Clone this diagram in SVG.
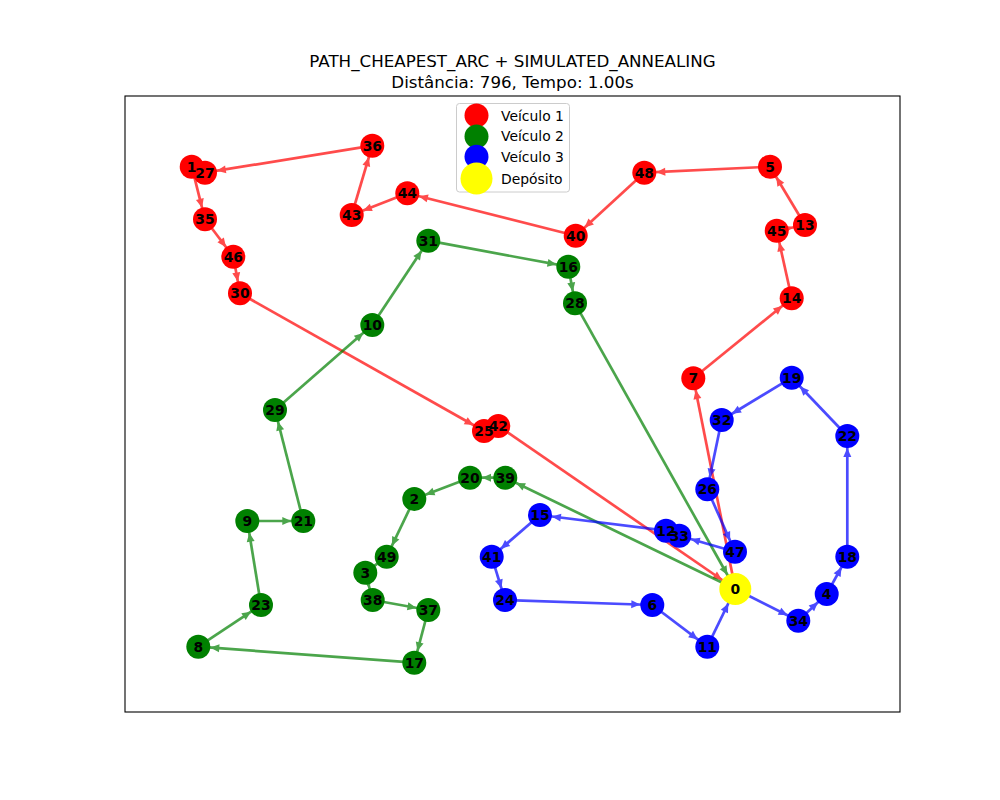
<svg xmlns="http://www.w3.org/2000/svg" width="1000" height="800" viewBox="0 0 1000 800">
<style>
.t{font-family:"DejaVu Sans",sans-serif;font-size:16.7px;fill:#000;text-anchor:middle}
.lg{font-family:"DejaVu Sans",sans-serif;font-size:13.9px;fill:#000}
.lb{font-family:"DejaVu Sans",sans-serif;font-size:13.9px;font-weight:bold;fill:#000;text-anchor:middle;dominant-baseline:central}
.r{fill:#ff0000}.g{fill:#008000}.b{fill:#0000ff}.y{fill:#ffff00}
.er{stroke:#ff0000;stroke-width:2.7;opacity:0.7;marker-end:url(#ar)}
.eg{stroke:#008000;stroke-width:2.7;opacity:0.7;marker-end:url(#ag)}
.eb{stroke:#0000ff;stroke-width:2.7;opacity:0.7;marker-end:url(#ab)}
.er0{stroke:#ff0000;stroke-width:2.7;opacity:0.7;marker-end:url(#ar0)}
.eg0{stroke:#008000;stroke-width:2.7;opacity:0.7;marker-end:url(#ag0)}
.eb0{stroke:#0000ff;stroke-width:2.7;opacity:0.7;marker-end:url(#ab0)}
</style>
<defs>
<marker id="ar" markerUnits="userSpaceOnUse" orient="auto" refX="0" refY="0" markerWidth="40" markerHeight="40" overflow="visible"><path d="M-12,0 L-21,-4 L-21,4 Z" fill="#ff0000"/></marker>
<marker id="ag" markerUnits="userSpaceOnUse" orient="auto" refX="0" refY="0" markerWidth="40" markerHeight="40" overflow="visible"><path d="M-12,0 L-21,-4 L-21,4 Z" fill="#008000"/></marker>
<marker id="ab" markerUnits="userSpaceOnUse" orient="auto" refX="0" refY="0" markerWidth="40" markerHeight="40" overflow="visible"><path d="M-12,0 L-21,-4 L-21,4 Z" fill="#0000ff"/></marker>
<marker id="ar0" markerUnits="userSpaceOnUse" orient="auto" refX="0" refY="0" markerWidth="40" markerHeight="40" overflow="visible"><path d="M-16,0 L-25,-4 L-25,4 Z" fill="#ff0000"/></marker>
<marker id="ag0" markerUnits="userSpaceOnUse" orient="auto" refX="0" refY="0" markerWidth="40" markerHeight="40" overflow="visible"><path d="M-16,0 L-25,-4 L-25,4 Z" fill="#008000"/></marker>
<marker id="ab0" markerUnits="userSpaceOnUse" orient="auto" refX="0" refY="0" markerWidth="40" markerHeight="40" overflow="visible"><path d="M-16,0 L-25,-4 L-25,4 Z" fill="#0000ff"/></marker>
</defs>
<rect x="0" y="0" width="1000" height="800" fill="#fff"/>
<text class="t" x="512.5" y="66.5">PATH_CHEAPEST_ARC + SIMULATED_ANNEALING</text>
<text class="t" x="512.5" y="87.5">Distância: 796, Tempo: 1.00s</text>
<rect x="125" y="96" width="775" height="616" fill="none" stroke="#000" stroke-width="1.1"/>
<g id="connectors">
<!-- red route -->
<line class="er" x1="735.3" y1="589" x2="693.3" y2="378.3"/>
<line class="er" x1="693.3" y1="378.3" x2="791.7" y2="298.3"/>
<line class="er" x1="791.7" y1="298.3" x2="776.7" y2="230.7"/>
<line class="er" x1="776.7" y1="230.7" x2="805" y2="225"/>
<line class="er" x1="805" y1="225" x2="770" y2="166.7"/>
<line class="er" x1="770" y1="166.7" x2="644.3" y2="172.7"/>
<line class="er" x1="644.3" y1="172.7" x2="575.7" y2="235.7"/>
<line class="er" x1="575.7" y1="235.7" x2="407.3" y2="193.3"/>
<line class="er" x1="407.3" y1="193.3" x2="351.7" y2="215"/>
<line class="er" x1="351.7" y1="215" x2="372.3" y2="145.7"/>
<line class="er" x1="372.3" y1="145.7" x2="205" y2="172.7"/>
<line class="er" x1="205" y1="172.7" x2="191.7" y2="166.7"/>
<line class="er" x1="191.7" y1="166.7" x2="205" y2="219.3"/>
<line class="er" x1="205" y1="219.3" x2="233.3" y2="256.7"/>
<line class="er" x1="233.3" y1="256.7" x2="240" y2="293.3"/>
<line class="er" x1="240" y1="293.3" x2="484" y2="431"/>
<line class="er" x1="484" y1="431" x2="498.3" y2="426"/>
<line class="er0" x1="498.3" y1="426" x2="735.3" y2="589"/>
<!-- green route -->
<line class="eg" x1="735.3" y1="589" x2="505.3" y2="477.7"/>
<line class="eg" x1="505.3" y1="477.7" x2="470" y2="477.7"/>
<line class="eg" x1="470" y1="477.7" x2="414.3" y2="499"/>
<line class="eg" x1="414.3" y1="499" x2="386.7" y2="556.7"/>
<line class="eg" x1="386.7" y1="556.7" x2="365.3" y2="572.7"/>
<line class="eg" x1="365.3" y1="572.7" x2="372.7" y2="600"/>
<line class="eg" x1="372.7" y1="600" x2="428.3" y2="610"/>
<line class="eg" x1="428.3" y1="610" x2="414.3" y2="662.7"/>
<line class="eg" x1="414.3" y1="662.7" x2="198.3" y2="646.7"/>
<line class="eg" x1="198.3" y1="646.7" x2="261" y2="605"/>
<line class="eg" x1="261" y1="605" x2="247.3" y2="521"/>
<line class="eg" x1="247.3" y1="521" x2="303.3" y2="521"/>
<line class="eg" x1="303.3" y1="521" x2="275" y2="410"/>
<line class="eg" x1="275" y1="410" x2="372.3" y2="325"/>
<line class="eg" x1="372.3" y1="325" x2="428.3" y2="240.7"/>
<line class="eg" x1="428.3" y1="240.7" x2="568.3" y2="266.7"/>
<line class="eg" x1="568.3" y1="266.7" x2="575" y2="303.3"/>
<line class="eg0" x1="575" y1="303.3" x2="735.3" y2="589"/>
<!-- blue route -->
<line class="eb" x1="735.3" y1="589" x2="798.3" y2="620.7"/>
<line class="eb" x1="798.3" y1="620.7" x2="826.7" y2="594"/>
<line class="eb" x1="826.7" y1="594" x2="847.3" y2="556.7"/>
<line class="eb" x1="847.3" y1="556.7" x2="847.3" y2="436"/>
<line class="eb" x1="847.3" y1="436" x2="791.7" y2="377.7"/>
<line class="eb" x1="791.7" y1="377.7" x2="721.7" y2="420"/>
<line class="eb" x1="721.7" y1="420" x2="707.3" y2="489.3"/>
<line class="eb" x1="707.3" y1="489.3" x2="735" y2="551.7"/>
<line class="eb" x1="735" y1="551.7" x2="679.3" y2="535.7"/>
<line class="eb" x1="679.3" y1="535.7" x2="666" y2="530.7"/>
<line class="eb" x1="666" y1="530.7" x2="540" y2="515"/>
<line class="eb" x1="540" y1="515" x2="491.7" y2="556.7"/>
<line class="eb" x1="491.7" y1="556.7" x2="505" y2="600"/>
<line class="eb" x1="505" y1="600" x2="652.3" y2="605"/>
<line class="eb" x1="652.3" y1="605" x2="707.3" y2="646.7"/>
<line class="eb0" x1="707.3" y1="646.7" x2="735.3" y2="589"/>
</g>
<g id="node-0"><circle class="y" cx="735.3" cy="589" r="16"/><text class="lb" x="735.3" y="589">0</text></g>
<g id="node-1"><circle class="r" cx="191.7" cy="166.7" r="12"/></g>
<g id="node-2"><circle class="g" cx="414.3" cy="499" r="12"/></g>
<g id="node-3"><circle class="g" cx="365.3" cy="572.7" r="12"/></g>
<g id="node-4"><circle class="b" cx="826.7" cy="594" r="12"/></g>
<g id="node-5"><circle class="r" cx="770" cy="166.7" r="12"/></g>
<g id="node-6"><circle class="b" cx="652.3" cy="605" r="12"/></g>
<g id="node-7"><circle class="r" cx="693.3" cy="378.3" r="12"/></g>
<g id="node-8"><circle class="g" cx="198.3" cy="646.7" r="12"/></g>
<g id="node-9"><circle class="g" cx="247.3" cy="521" r="12"/></g>
<g id="node-10"><circle class="g" cx="372.3" cy="325" r="12"/></g>
<g id="node-11"><circle class="b" cx="707.3" cy="646.7" r="12"/></g>
<g id="node-12"><circle class="b" cx="666" cy="530.7" r="12"/></g>
<g id="node-13"><circle class="r" cx="805" cy="225" r="12"/></g>
<g id="node-14"><circle class="r" cx="791.7" cy="298.3" r="12"/></g>
<g id="node-15"><circle class="b" cx="540" cy="515" r="12"/></g>
<g id="node-16"><circle class="g" cx="568.3" cy="266.7" r="12"/></g>
<g id="node-17"><circle class="g" cx="414.3" cy="662.7" r="12"/></g>
<g id="node-18"><circle class="b" cx="847.3" cy="556.7" r="12"/></g>
<g id="node-19"><circle class="b" cx="791.7" cy="377.7" r="12"/></g>
<g id="node-20"><circle class="g" cx="470" cy="477.7" r="12"/></g>
<g id="node-21"><circle class="g" cx="303.3" cy="521" r="12"/></g>
<g id="node-22"><circle class="b" cx="847.3" cy="436" r="12"/></g>
<g id="node-23"><circle class="g" cx="261" cy="605" r="12"/></g>
<g id="node-24"><circle class="b" cx="505" cy="600" r="12"/></g>
<g id="node-25"><circle class="r" cx="484" cy="431" r="12"/></g>
<g id="node-26"><circle class="b" cx="707.3" cy="489.3" r="12"/></g>
<g id="node-27"><circle class="r" cx="205" cy="172.7" r="12"/></g>
<g id="node-28"><circle class="g" cx="575" cy="303.3" r="12"/></g>
<g id="node-29"><circle class="g" cx="275" cy="410" r="12"/></g>
<g id="node-30"><circle class="r" cx="240" cy="293.3" r="12"/></g>
<g id="node-31"><circle class="g" cx="428.3" cy="240.7" r="12"/></g>
<g id="node-32"><circle class="b" cx="721.7" cy="420" r="12"/></g>
<g id="node-33"><circle class="b" cx="679.3" cy="535.7" r="12"/></g>
<g id="node-34"><circle class="b" cx="798.3" cy="620.7" r="12"/></g>
<g id="node-35"><circle class="r" cx="205" cy="219.3" r="12"/></g>
<g id="node-36"><circle class="r" cx="372.3" cy="145.7" r="12"/></g>
<g id="node-37"><circle class="g" cx="428.3" cy="610" r="12"/></g>
<g id="node-38"><circle class="g" cx="372.7" cy="600" r="12"/></g>
<g id="node-39"><circle class="g" cx="505.3" cy="477.7" r="12"/></g>
<g id="node-40"><circle class="r" cx="575.7" cy="235.7" r="12"/></g>
<g id="node-41"><circle class="b" cx="491.7" cy="556.7" r="12"/></g>
<g id="node-42"><circle class="r" cx="498.3" cy="426" r="12"/></g>
<g id="node-43"><circle class="r" cx="351.7" cy="215" r="12"/></g>
<g id="node-44"><circle class="r" cx="407.3" cy="193.3" r="12"/></g>
<g id="node-45"><circle class="r" cx="776.7" cy="230.7" r="12"/></g>
<g id="node-46"><circle class="r" cx="233.3" cy="256.7" r="12"/></g>
<g id="node-47"><circle class="b" cx="735" cy="551.7" r="12"/></g>
<g id="node-48"><circle class="r" cx="644.3" cy="172.7" r="12"/></g>
<g id="node-49"><circle class="g" cx="386.7" cy="556.7" r="12"/></g>
<g id="labels">
<text class="lb" x="191.7" y="166.7">1</text>
<text class="lb" x="414.3" y="499">2</text>
<text class="lb" x="365.3" y="572.7">3</text>
<text class="lb" x="826.7" y="594">4</text>
<text class="lb" x="770" y="166.7">5</text>
<text class="lb" x="652.3" y="605">6</text>
<text class="lb" x="693.3" y="378.3">7</text>
<text class="lb" x="198.3" y="646.7">8</text>
<text class="lb" x="247.3" y="521">9</text>
<text class="lb" x="372.3" y="325">10</text>
<text class="lb" x="707.3" y="646.7">11</text>
<text class="lb" x="666" y="530.7">12</text>
<text class="lb" x="805" y="225">13</text>
<text class="lb" x="791.7" y="298.3">14</text>
<text class="lb" x="540" y="515">15</text>
<text class="lb" x="568.3" y="266.7">16</text>
<text class="lb" x="414.3" y="662.7">17</text>
<text class="lb" x="847.3" y="556.7">18</text>
<text class="lb" x="791.7" y="377.7">19</text>
<text class="lb" x="470" y="477.7">20</text>
<text class="lb" x="303.3" y="521">21</text>
<text class="lb" x="847.3" y="436">22</text>
<text class="lb" x="261" y="605">23</text>
<text class="lb" x="505" y="600">24</text>
<text class="lb" x="484" y="431">25</text>
<text class="lb" x="707.3" y="489.3">26</text>
<text class="lb" x="205" y="172.7">27</text>
<text class="lb" x="575" y="303.3">28</text>
<text class="lb" x="275" y="410">29</text>
<text class="lb" x="240" y="293.3">30</text>
<text class="lb" x="428.3" y="240.7">31</text>
<text class="lb" x="721.7" y="420">32</text>
<text class="lb" x="679.3" y="535.7">33</text>
<text class="lb" x="798.3" y="620.7">34</text>
<text class="lb" x="205" y="219.3">35</text>
<text class="lb" x="372.3" y="145.7">36</text>
<text class="lb" x="428.3" y="610">37</text>
<text class="lb" x="372.7" y="600">38</text>
<text class="lb" x="505.3" y="477.7">39</text>
<text class="lb" x="575.7" y="235.7">40</text>
<text class="lb" x="491.7" y="556.7">41</text>
<text class="lb" x="498.3" y="426">42</text>
<text class="lb" x="351.7" y="215">43</text>
<text class="lb" x="407.3" y="193.3">44</text>
<text class="lb" x="776.7" y="230.7">45</text>
<text class="lb" x="233.3" y="256.7">46</text>
<text class="lb" x="735" y="551.7">47</text>
<text class="lb" x="644.3" y="172.7">48</text>
<text class="lb" x="386.7" y="556.7">49</text>
</g>
<g id="legend">
<rect x="456.5" y="103.5" width="113" height="88.5" rx="3" fill="#fff" fill-opacity="0.8" stroke="#cccccc"/>
<circle class="r" cx="476.5" cy="115.5" r="12"/>
<circle class="g" cx="476.5" cy="136.5" r="12"/>
<circle class="b" cx="476.5" cy="156.7" r="12"/>
<circle class="y" cx="476.5" cy="178.5" r="16"/>
<text class="lg" x="501" y="120.5">Veículo 1</text>
<text class="lg" x="501" y="141">Veículo 2</text>
<text class="lg" x="501" y="161.5">Veículo 3</text>
<text class="lg" x="501" y="183.5">Depósito</text>
</g>
</svg>
